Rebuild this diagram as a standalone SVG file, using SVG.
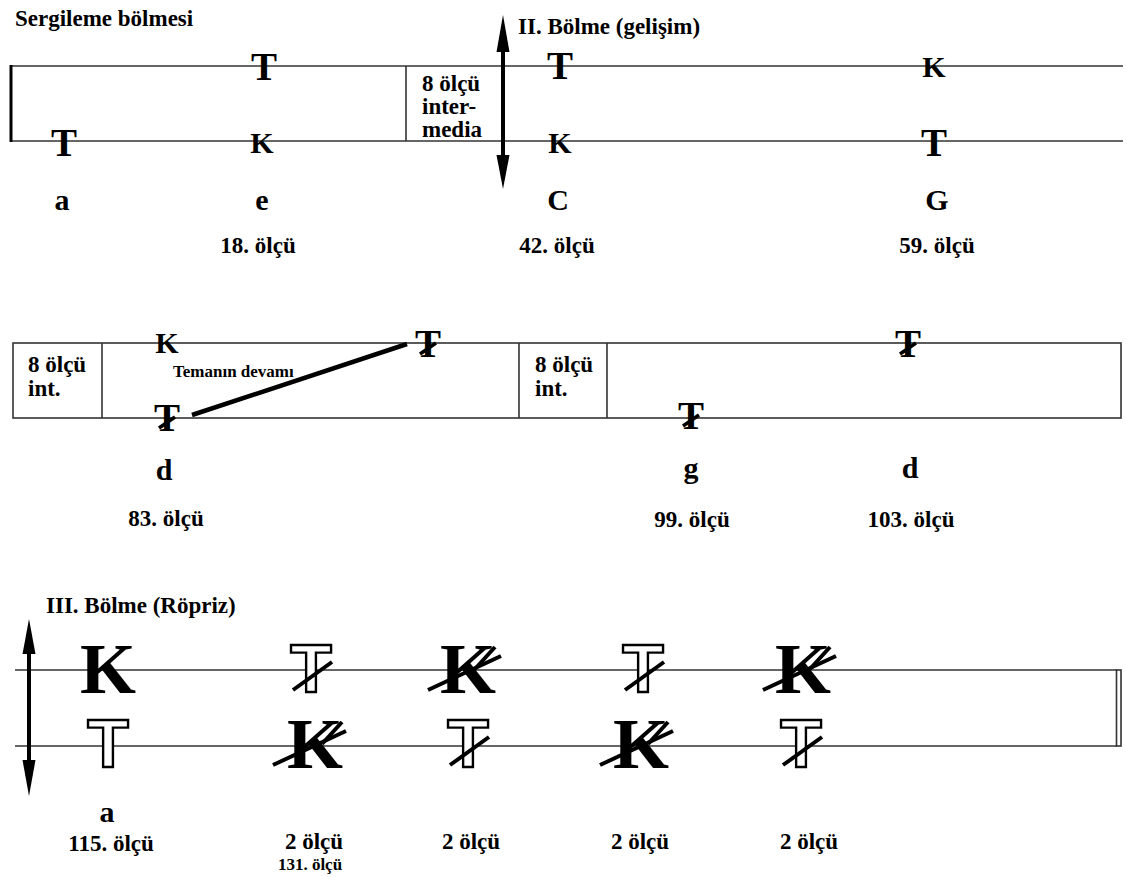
<svg xmlns="http://www.w3.org/2000/svg" width="1127" height="877" viewBox="0 0 1127 877">
<style>
text{font-family:"Liberation Serif","Times New Roman",serif;font-weight:bold;fill:#000}
.lbl{font-size:23px}
.sm{font-size:17px}
.let{font-size:30px;text-anchor:middle}
.T{font-size:39px;text-anchor:middle}
.K{font-size:30px;text-anchor:middle}
.bK{font-size:72px;text-anchor:middle}
.hT{font-family:"Liberation Sans",Arial,sans-serif;font-size:68px;text-anchor:middle;fill:#fff;stroke:#000;stroke-width:2.4}
.staff{stroke:#333;stroke-width:1.6;fill:none}
.slash{stroke:#000;stroke-width:4;fill:none}
.sl2{stroke:#000;stroke-width:3.5;fill:none}
.shaft{stroke:#000;stroke-width:4}
.mid{text-anchor:middle}
</style>

<g id="titles">
<text class="lbl" x="15" y="26">Sergileme bölmesi</text>
<text class="lbl" x="518" y="34">II. Bölme (gelişim)</text>
<text class="lbl" x="46" y="613">III. Bölme (Röpriz)</text>
</g>

<g id="staff1">
<line class="staff" x1="10" y1="66" x2="1123" y2="66"/>
<line class="staff" x1="10" y1="141" x2="1123" y2="141"/>
<line stroke="#000" stroke-width="3" x1="11" y1="65" x2="11" y2="142"/>
<line class="staff" x1="406" y1="66" x2="406" y2="141"/>
</g>

<g id="intermedia1">
<text class="lbl" x="422" y="91">8 ölçü</text>
<text class="lbl" x="422" y="114">inter-</text>
<text class="lbl" x="422" y="137">media</text>
</g>

<g id="n-a1">
<text class="T" x="64" y="156">T</text>
<text class="let" x="62" y="210">a</text>
</g>
<g id="n-e">
<text class="T" x="264" y="80">T</text>
<text class="K" x="262" y="153">K</text>
<text class="let" x="262" y="210">e</text>
<text class="lbl mid" x="258" y="253">18. ölçü</text>
</g>
<g id="n-C">
<text class="T" x="560" y="79">T</text>
<text class="K" x="560" y="153">K</text>
<text class="let" x="558" y="210">C</text>
<text class="lbl mid" x="557" y="253">42. ölçü</text>
</g>
<g id="n-G">
<text class="K" x="934" y="77">K</text>
<text class="T" x="934" y="156">T</text>
<text class="let" x="937" y="210">G</text>
<text class="lbl mid" x="937" y="253">59. ölçü</text>
</g>

<g id="staff2">
<rect class="staff" x="13" y="343" width="1108" height="75"/>
<line class="staff" x1="102" y1="343" x2="102" y2="418"/>
<line class="staff" x1="519" y1="343" x2="519" y2="418"/>
<line class="staff" x1="607" y1="343" x2="607" y2="418"/>
</g>
<g id="int2a">
<text class="lbl" x="28" y="372">8 ölçü</text>
<text class="lbl" x="28" y="396">int.</text>
</g>
<g id="int2b">
<text class="lbl" x="535" y="372">8 ölçü</text>
<text class="lbl" x="535" y="396">int.</text>
</g>
<g id="n-d1">
<text class="K" x="167" y="353">K</text>
<text class="T" x="167" y="431">T</text>
<line class="sl2" x1="159" y1="428" x2="175" y2="417"/>
<text class="let" x="164" y="480">d</text>
<text class="lbl mid" x="166" y="526">83. ölçü</text>
</g>
<g id="n-tema">
<text class="T" x="428" y="357">T</text>
<line class="sl2" x1="420" y1="354" x2="436" y2="343"/>
</g>
<g id="n-g">
<text class="T" x="691" y="429">T</text>
<line class="sl2" x1="683" y1="426" x2="699" y2="415"/>
<text class="let" x="691" y="478">g</text>
<text class="lbl mid" x="692" y="527">99. ölçü</text>
</g>
<g id="n-d2">
<text class="T" x="908" y="357">T</text>
<line class="sl2" x1="900" y1="354" x2="916" y2="343"/>
<text class="let" x="910" y="478">d</text>
<text class="lbl mid" x="911" y="527">103. ölçü</text>
</g>

<g id="staff3">
<line class="staff" x1="15" y1="670" x2="1117" y2="670"/>
<line class="staff" x1="15" y1="746" x2="1117" y2="746"/>
<rect x="1116.5" y="670" width="4.5" height="76" fill="#fff" stroke="#333" stroke-width="1.6"/>
</g>

<g id="r3c1">
<text class="bK" x="108" y="693">K</text>
<text class="hT" x="108" y="767">T</text>
<text class="let" x="107" y="822">a</text>
<text class="lbl mid" x="111" y="851">115. ölçü</text>
</g>
<g id="r3c2">
<text class="hT" x="311" y="692">T</text>
<line class="slash" x1="293" y1="690" x2="332" y2="662"/>
<text class="bK" x="315" y="768">K</text>
<line class="slash" x1="273" y1="765" x2="346" y2="731"/>
<line class="slash" x1="322" y1="744" x2="342" y2="722"/>
<text class="lbl mid" x="314" y="849">2 ölçü</text>
<text class="sm mid" x="310" y="870">131. ölçü</text>
</g>
<g id="r3c3">
<text class="bK" x="468" y="693">K</text>
<line class="slash" x1="428" y1="690" x2="501" y2="656"/>
<line class="slash" x1="475" y1="669" x2="495" y2="647"/>
<text class="hT" x="468" y="767">T</text>
<line class="slash" x1="450" y1="765" x2="489" y2="737"/>
<text class="lbl mid" x="471" y="849">2 ölçü</text>
</g>
<g id="r3c4">
<text class="hT" x="643" y="692">T</text>
<line class="slash" x1="625" y1="690" x2="664" y2="662"/>
<text class="bK" x="641" y="768">K</text>
<line class="slash" x1="600" y1="765" x2="673" y2="731"/>
<line class="slash" x1="648" y1="744" x2="668" y2="722"/>
<text class="lbl mid" x="640" y="849">2 ölçü</text>
</g>
<g id="r3c5">
<text class="bK" x="803" y="693">K</text>
<line class="slash" x1="763" y1="690" x2="836" y2="656"/>
<line class="slash" x1="810" y1="669" x2="830" y2="647"/>
<text class="hT" x="801" y="767">T</text>
<line class="slash" x1="783" y1="765" x2="822" y2="737"/>
<text class="lbl mid" x="809" y="849">2 ölçü</text>
</g>

<g id="connectors">
<line class="shaft" x1="503" y1="40" x2="503" y2="165"/>
<polygon points="503,15 509.5,52 496.5,52" fill="#000"/>
<polygon points="503,189 509.5,155 496.5,155" fill="#000"/>
<line class="shaft" x1="29" y1="645" x2="29" y2="770"/>
<polygon points="29,619 35.5,654 22.5,654" fill="#000"/>
<polygon points="29,796 35.5,760 22.5,760" fill="#000"/>
<line stroke="#000" stroke-width="4.5" x1="192" y1="415" x2="407" y2="344"/>
</g>
<g id="tema-label">
<text class="sm" x="173" y="377">Temanın devamı</text>
</g>
</svg>
